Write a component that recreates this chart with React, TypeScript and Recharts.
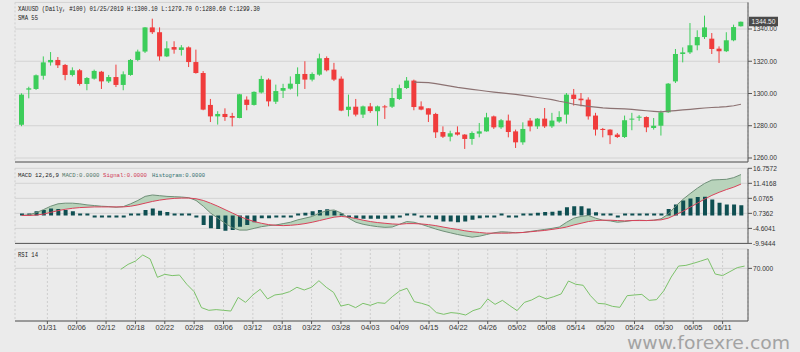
import React from 'react';
import { ComposedChart, Bar, Line, Area, XAxis, YAxis, CartesianGrid, ReferenceLine } from 'recharts';

const dates = [
  '01/25','01/28','01/29','01/30','01/31','02/01','02/04','02/05','02/06','02/07',
  '02/08','02/11','02/12','02/13','02/14','02/15','02/18','02/19','02/20','02/21',
  '02/22','02/25','02/26','02/27','02/28','03/01','03/04','03/05','03/06','03/07',
  '03/08','03/11','03/12','03/13','03/14','03/15','03/18','03/19','03/20','03/21',
  '03/22','03/25','03/26','03/27','03/28','03/29','04/01','04/02','04/03','04/04',
  '04/05','04/08','04/09','04/10','04/11','04/12','04/15','04/16','04/17','04/18',
  '04/22','04/23','04/24','04/25','04/26','04/29','04/30','05/01','05/02','05/03',
  '05/06','05/07','05/08','05/09','05/10','05/13','05/14','05/15','05/16','05/17',
  '05/20','05/21','05/22','05/23','05/24','05/27','05/28','05/29','05/30','05/31',
  '06/03','06/04','06/05','06/06','06/07','06/10','06/11','06/12','06/13','06/14',
];

const xTicks = ['01/31','02/06','02/12','02/18','02/22','02/28','03/06','03/12','03/18','03/22','03/28','04/03',
  '04/09','04/15','04/22','04/26','05/02','05/08','05/14','05/20','05/24','05/30','06/05','06/11'];

const opens = [
  1280.6,1302.4,1302.8,1311.0,1319.3,1320.8,1317.7,1311.5,1314.4,1305.9,
  1309.2,1313.5,1307.5,1310.2,1305.3,1311.5,1320.8,1326.0,1341.0,1338.0,
  1323.0,1328.8,1327.0,1328.6,1319.5,1312.7,1292.9,1285.8,1287.3,1286.0,
  1284.8,1296.2,1292.9,1300.6,1308.6,1294.9,1301.7,1303.0,1305.9,1312.1,
  1308.6,1311.7,1322.0,1314.8,1309.2,1289.8,1291.8,1286.9,1292.0,1289.0,
  1292.0,1291.8,1296.6,1303.4,1308.0,1292.0,1290.8,1287.3,1276.1,1273.2,
  1275.9,1274.5,1271.8,1275.1,1276.5,1285.8,1279.0,1283.2,1276.5,1269.7,
  1283.2,1279.6,1284.4,1279.6,1282.6,1286.9,1299.3,1296.8,1296.2,1286.3,
  1278.0,1277.6,1274.5,1273.0,1283.8,1285.2,1285.4,1278.6,1280.0,1288.3,
  1307.5,1324.5,1325.5,1329.9,1335.0,1334.0,1327.8,1326.2,1333.0,1341.7,
];
const highs = [
  1300.1,1304.2,1311.8,1323.0,1325.7,1322.6,1318.3,1316.2,1315.2,1310.2,
  1314.8,1314.0,1311.5,1317.9,1313.7,1321.4,1327.2,1341.2,1346.4,1341.0,
  1332.4,1332.4,1330.0,1329.2,1327.2,1313.9,1296.6,1289.0,1290.8,1288.0,
  1299.7,1298.2,1301.3,1311.0,1309.4,1305.5,1306.0,1310.6,1316.2,1320.0,
  1313.1,1324.7,1323.0,1319.0,1310.6,1299.3,1296.6,1292.5,1294.1,1292.5,
  1292.9,1303.4,1305.5,1310.2,1308.6,1295.1,1290.8,1288.0,1279.6,1276.9,
  1279.6,1274.8,1276.5,1281.7,1288.0,1286.3,1284.2,1286.9,1277.6,1282.1,
  1284.8,1284.8,1291.0,1288.0,1289.0,1300.3,1302.8,1300.3,1297.6,1288.0,
  1278.6,1277.8,1275.5,1286.3,1288.0,1286.6,1285.8,1284.8,1289.4,1306.5,
  1327.6,1328.6,1343.7,1339.2,1348.3,1337.5,1329.2,1338.0,1342.7,1344.6,
];
const lows = [
  1279.7,1297.0,1302.2,1308.6,1317.3,1315.8,1308.2,1310.6,1304.9,1302.0,
  1308.6,1302.8,1306.5,1304.0,1302.0,1311.0,1320.0,1325.1,1336.9,1320.4,
  1322.6,1324.7,1323.5,1316.4,1312.3,1289.6,1282.3,1280.7,1283.0,1279.6,
  1284.6,1289.6,1292.5,1300.0,1292.0,1293.5,1297.2,1302.4,1298.2,1302.8,
  1307.5,1311.0,1313.7,1307.7,1289.0,1285.8,1285.8,1284.8,1288.0,1280.0,
  1284.2,1291.0,1296.0,1302.8,1289.6,1289.6,1282.3,1272.4,1272.4,1270.3,
  1273.9,1265.6,1268.2,1272.8,1276.3,1278.0,1278.0,1272.8,1266.2,1268.2,
  1276.5,1278.0,1278.6,1278.6,1281.8,1281.3,1292.5,1292.0,1283.8,1273.9,
  1272.8,1268.6,1272.4,1272.4,1277.2,1283.0,1276.0,1277.6,1273.9,1288.0,
  1306.5,1319.3,1324.5,1326.8,1333.8,1324.5,1318.9,1325.7,1332.4,1341.5,
];
const closes = [
  1299.3,1303.2,1311.3,1319.3,1320.8,1317.5,1311.5,1314.4,1305.9,1309.6,
  1314.0,1307.5,1310.2,1305.3,1311.9,1320.8,1326.0,1341.0,1338.0,1323.0,
  1328.0,1327.2,1328.6,1319.5,1312.7,1290.0,1285.8,1287.3,1285.4,1285.0,
  1299.5,1292.9,1301.0,1309.0,1295.1,1301.5,1303.4,1306.1,1312.1,1308.6,
  1312.1,1321.8,1314.4,1308.6,1289.4,1291.8,1286.9,1292.0,1289.1,1292.0,
  1291.4,1297.2,1303.3,1308.0,1291.6,1290.0,1286.9,1275.9,1273.2,1275.3,
  1274.5,1271.8,1275.5,1276.5,1285.2,1279.0,1283.4,1276.1,1269.7,1278.0,
  1279.6,1284.4,1279.6,1283.2,1285.4,1299.3,1296.6,1295.8,1285.8,1277.6,
  1277.5,1274.1,1273.0,1283.4,1284.4,1285.6,1279.0,1280.0,1288.3,1306.1,
  1324.5,1325.5,1329.9,1335.0,1341.0,1327.6,1326.2,1333.0,1341.2,1344.5,
];

const smaStart = 54;
const sma55 = [
  1307.0,1306.9,1306.7,1306.1,1305.3,1304.6,1303.8,1303.2,1302.6,1302.0,
  1301.4,1300.9,1300.4,1299.9,1299.4,1298.8,1298.2,1297.5,1296.9,1296.2,
  1295.2,1294.4,1293.3,1292.6,1292.0,1291.5,1291.1,1290.8,1290.6,1290.4,
  1290.1,1289.7,1289.3,1288.9,1288.6,1289.0,1289.4,1289.8,1290.2,1290.6,
  1291.0,1291.3,1291.5,1291.8,1292.4,1293.3,
];

const macdLine = [
  0,0.24,0.97,2.06,3.27,4.12,4.36,4.36,4.12,3.75,
  3.51,3.27,3.15,2.91,3.15,4.12,5.33,6.78,7.27,7.02,
  6.78,6.66,6.54,6.30,5.33,3.27,0.85,-0.97,-2.79,-4.36,
  -5.21,-5.21,-4.60,-4.00,-3.63,-3.39,-2.91,-2.42,-1.57,-0.97,
  -0.36,0.85,1.70,1.94,0.85,-0.97,-2.42,-3.15,-3.63,-4.00,
  -4.24,-4.12,-3.15,-2.18,-2.42,-3.15,-4.00,-4.84,-5.57,-6.18,
  -6.78,-7.27,-7.72,-7.39,-6.78,-6.18,-5.81,-5.93,-6.18,-6.06,
  -5.69,-5.33,-4.97,-4.60,-4.12,-2.42,-0.97,-0.36,0,-0.97,
  -1.70,-1.94,-2.42,-2.18,-1.82,-1.70,-1.82,-1.70,-1.21,0.48,
  3.27,5.69,7.75,9.69,11.38,12.59,12.72,12.84,13.44,14.53,
];
const signalLine = [
  0,0,0.12,0.48,1.09,1.70,2.18,2.54,2.79,2.91,
  3.03,3.03,3.03,3.03,3.03,3.27,3.75,4.36,4.97,5.45,
  5.81,6.06,6.18,6.18,5.93,5.33,4.36,3.27,2.06,0.85,
  -0.36,-1.33,-2.18,-2.79,-3.27,-3.51,-3.63,-3.51,-3.27,-2.91,
  -2.42,-1.82,-1.21,-0.61,-0.36,-0.61,-1.09,-1.70,-2.18,-2.54,
  -2.79,-3.03,-3.15,-2.91,-2.91,-3.03,-3.27,-3.63,-4.12,-4.60,
  -4.97,-5.45,-5.81,-6.06,-6.30,-6.30,-6.30,-6.30,-6.18,-6.06,
  -5.81,-5.57,-5.33,-4.97,-4.60,-4.12,-3.39,-2.79,-2.18,-1.82,
  -1.70,-1.70,-1.82,-1.94,-1.82,-1.82,-1.82,-1.70,-1.57,-0.97,
  0.24,1.45,2.91,4.36,5.81,7.14,8.23,9.20,10.05,11.14,
];
const histogram = [
  0,0.36,1.45,1.94,2.42,2.30,1.94,1.45,0.48,0.24,
  -0.24,-0.24,-0.36,-0.48,-0.24,0.24,0.73,1.94,2.42,1.70,
  1.21,0.73,0.48,0.24,-0.48,-3.39,-4.60,-4.84,-5.45,-5.21,
  -4.00,-3.39,-2.42,-0.97,-0.97,-0.73,-0.24,-0.12,0.48,0.97,
  1.45,1.94,2.18,1.70,0.24,-0.48,-0.97,-1.21,-1.21,-1.21,
  -1.21,-1.09,-0.61,0.36,0.12,-0.24,-0.73,-1.33,-2.18,-2.18,
  -2.42,-2.18,-1.57,-0.97,-0.24,-0.12,0.12,-0.12,-0.12,0.12,
  0.61,0.97,1.21,1.33,1.70,2.91,3.27,3.27,2.42,1.09,
  0.48,0.12,-0.61,0.12,0.12,0.12,0.12,0.12,0.48,2.30,
  3.88,5.33,6.06,6.54,6.66,5.69,4.48,3.88,3.88,3.63,
];

const rsiStart = 14;
const rsi14 = [
  69.3,72.8,75.1,79.4,76.6,63.7,65.8,64.9,65.3,58.8,
  53.6,42.4,40.5,41.0,40.5,40.0,49.6,46.1,51.3,55.3,
  48.5,51.3,52.0,53.6,56.7,54.8,56.7,61.3,56.7,53.1,
  43.5,44.7,42.4,45.4,44.0,45.9,45.4,50.1,54.1,56.0,
  46.6,45.4,43.8,38.9,37.7,38.9,38.4,37.2,40.3,41.9,
  48.5,44.7,47.5,43.8,40.3,46.1,47.8,50.6,48.5,50.1,
  52.0,61.1,58.8,58.1,50.8,45.4,45.0,43.3,42.6,50.8,
  51.3,51.7,47.5,48.0,54.3,63.9,71.6,72.1,73.5,75.1,
  76.8,66.0,64.9,67.7,70.5,71.6,
];

const priceTicks = [1260, 1280, 1300, 1320, 1340];
const macdTicks = [16.7572, 11.4168, 6.0765, 0.7362, -4.6041, -9.9444];
const rsiTicks = [70];

const BG = '#ebebeb';
const GRID_H = '#d3d3d3';
const GRID_V = '#cdcdcd';
const AXIS = '#555555';
const TEXT = '#333333';
const UP = '#3ccd5a';
const DOWN = '#f03c3c';
const SMA_C = '#8c7272';
const BAND = '#b8d3bb';
const MACD_C = '#6f8f78';
const SIG_C = '#d9425a';
const HIST_C = '#0f4f52';
const RSI_C = '#7cc26a';

const data = dates.map((d, i) => ({
  d,
  o: opens[i],
  h: highs[i],
  l: lows[i],
  c: closes[i],
  hl: [lows[i], highs[i]],
  sma: i >= smaStart ? sma55[i - smaStart] : null,
  macd: macdLine[i],
  sig: signalLine[i],
  band: [signalLine[i], macdLine[i]],
  hist: histogram[i],
  rsi: i >= rsiStart ? rsi14[i - rsiStart] : null,
}));

const lastClose = closes[closes.length - 1];

const Candle = (props: any) => {
  const { x, y, width, height, payload } = props;
  const top = Math.min(y, y + height);
  const hgt = Math.abs(height);
  const range = payload.h - payload.l;
  const ratio = range === 0 ? 0 : hgt / range;
  const yO = top + (payload.h - payload.o) * ratio;
  const yC = top + (payload.h - payload.c) * ratio;
  const color = payload.c >= payload.o ? UP : DOWN;
  const cx = x + width / 2;
  const bTop = Math.min(yO, yC);
  const bH = Math.max(1, Math.abs(yO - yC));
  return (
    <g>
      <line x1={cx} x2={cx} y1={top} y2={top + hgt} stroke={color} strokeWidth={1} />
      <rect x={x} y={bTop} width={width} height={bH} fill={color} />
    </g>
  );
};

const YTick = (props: any) => {
  const { x, y, payload, digits } = props;
  return (
    <text x={x - 1} y={y} dy={2.3} fontSize={6.6} fontFamily="'Liberation Sans', Arial, sans-serif" fill={TEXT} textAnchor="start">
      {Number(payload.value).toFixed(digits)}
    </text>
  );
};

const XTick = (props: any) => {
  const { x, y, payload } = props;
  return (
    <text x={x} y={y} dy={4.0} fontSize={7.4} fontFamily="'Liberation Sans', Arial, sans-serif" fill={TEXT} textAnchor="middle">
      {payload.value}
    </text>
  );
};

const PriceTag = (props: any) => {
  const { viewBox, value } = props;
  if (!viewBox) return null;
  const x0 = viewBox.x + viewBox.width + 1;
  const y0 = viewBox.y;
  return (
    <g>
      <rect x={x0} y={y0 - 5} width={29} height={9.5} fill="#4a4a4a" />
      <text x={x0 + 14.5} y={y0 + 2.3} fontSize={6.6} fontFamily="'Liberation Sans', Arial, sans-serif" fill="#f2f2f2" textAnchor="middle">
        {Number(value).toFixed(2)}
      </text>
    </g>
  );
};

const commonX = (labels: boolean, height: number) => (
  <XAxis
    dataKey="d"
    ticks={xTicks}
    interval={0}
    padding={{ left: 3, right: 3.4 }}
    height={height}
    tick={labels ? <XTick /> : false}
    tickSize={3}
    axisLine={{ stroke: AXIS }}
    tickLine={{ stroke: AXIS }}
  />
);

const leftBorder = () => (
  <YAxis yAxisId="l" orientation="left" width={0} tick={false} tickLine={false} axisLine={{ stroke: AXIS }} domain={[0, 1]} type="number" />
);

const mono = "'Liberation Mono', 'DejaVu Sans Mono', monospace";

export default function App() {
  return (
    <div style={{ position: 'absolute', left: 0, top: 0, width: 800, height: 352, background: BG, overflow: 'hidden' }}>
      <div style={{ position: 'absolute', left: 0, top: 0 }}>
        <ComposedChart width={800} height={166} data={data} margin={{ top: 2.4, right: 0, bottom: 0, left: 15 }}>
          <CartesianGrid vertical={false} stroke={GRID_H} />
          <CartesianGrid horizontal={false} stroke={GRID_V} strokeDasharray="2 2" />
          {commonX(false, 4)}
          {leftBorder()}
          <YAxis orientation="right" type="number" domain={[1257.5, 1356.5]} ticks={priceTicks} allowDataOverflow interval={0}
            width={52} tickSize={4} axisLine={{ stroke: AXIS }} tickLine={{ stroke: AXIS }} tick={<YTick digits={2} />} />
          <Bar dataKey="hl" barSize={5} shape={(p: any) => <Candle {...p} />} isAnimationActive={false} />
          <Line dataKey="sma" stroke={SMA_C} strokeWidth={1.2} dot={false} isAnimationActive={false} connectNulls={false} />
          <ReferenceLine y={lastClose} stroke="none" label={<PriceTag value={lastClose} />} />
        </ComposedChart>
      </div>
      <div style={{ position: 'absolute', left: 0, top: 160 }}>
        <ComposedChart width={800} height={87} data={data} margin={{ top: 8.3, right: 0, bottom: 0, left: 15 }}>
          <CartesianGrid vertical={false} stroke={GRID_H} />
          <CartesianGrid horizontal={false} stroke={GRID_V} strokeDasharray="2 2" />
          {commonX(false, 3.6)}
          {leftBorder()}
          <YAxis orientation="right" type="number" domain={[-9.9444, 16.7572]} ticks={macdTicks} allowDataOverflow interval={0}
            width={52} tickSize={4} axisLine={{ stroke: AXIS }} tickLine={{ stroke: AXIS }} tick={<YTick digits={4} />} />
          <Area dataKey="band" fill={BAND} fillOpacity={1} stroke="none" isAnimationActive={false} />
          <Bar dataKey="hist" barSize={4} fill={HIST_C} minPointSize={2} isAnimationActive={false} />
          <Line dataKey="macd" stroke={MACD_C} strokeWidth={1} dot={false} isAnimationActive={false} />
          <Line dataKey="sig" stroke={SIG_C} strokeWidth={1} dot={false} isAnimationActive={false} />
        </ComposedChart>
      </div>
      <div style={{ position: 'absolute', left: 0, top: 240 }}>
        <ComposedChart width={800} height={112} data={data} margin={{ top: 9, right: 0, bottom: 0, left: 15 }}>
          <CartesianGrid vertical={false} stroke={GRID_H} />
          <CartesianGrid horizontal={false} stroke={GRID_V} strokeDasharray="2 2" />
          {commonX(true, 31)}
          {leftBorder()}
          <YAxis orientation="right" type="number" domain={[33.0, 83.6]} ticks={rsiTicks} allowDataOverflow interval={0}
            width={52} tickSize={4} axisLine={{ stroke: AXIS }} tickLine={{ stroke: AXIS }} tick={<YTick digits={3} />} />
          <Line dataKey="rsi" stroke={RSI_C} strokeWidth={1} dot={false} isAnimationActive={false} connectNulls={false} />
        </ComposedChart>
      </div>
      <svg width={800} height={352} style={{ position: 'absolute', left: 0, top: 0, pointerEvents: 'none' }}>
        <text x={18} y={11.3} fontSize={7} fontFamily={mono} fill="#222" textLength={242} lengthAdjust="spacingAndGlyphs">
          XAUUSD (Daily, #100) 01/25/2019 H:1300.10 L:1279.70 O:1280.60 C:1299.30
        </text>
        <text x={18} y={19.6} fontSize={7} fontFamily={mono} fill="#222" textLength={20} lengthAdjust="spacingAndGlyphs">SMA 55</text>
        <text y={176.6} fontSize={6} fontFamily={mono} fill="#222">
          <tspan x={18} textLength={41} lengthAdjust="spacingAndGlyphs">MACD 12,26,9</tspan>
          <tspan x={62} fill="#4f7565" textLength={37.5} lengthAdjust="spacingAndGlyphs">MACD:0.0000</tspan>
          <tspan x={103} fill="#d03a55" textLength={44} lengthAdjust="spacingAndGlyphs">Signal:0.0000</tspan>
          <tspan x={152} fill="#2e6d6d" textLength={53} lengthAdjust="spacingAndGlyphs">Histogram:0.0000</tspan>
        </text>
        <text x={18} y={257.3} fontSize={7} fontFamily={mono} fill="#222" textLength={20} lengthAdjust="spacingAndGlyphs">RSI 14</text>
        <text x={627} y={348.5} fontSize={18} fontFamily="'DejaVu Sans', Verdana, sans-serif" fill="#a3a3a3" textLength={163} lengthAdjust="spacingAndGlyphs">www.forexre.com</text>
      </svg>
    </div>
  );
}
